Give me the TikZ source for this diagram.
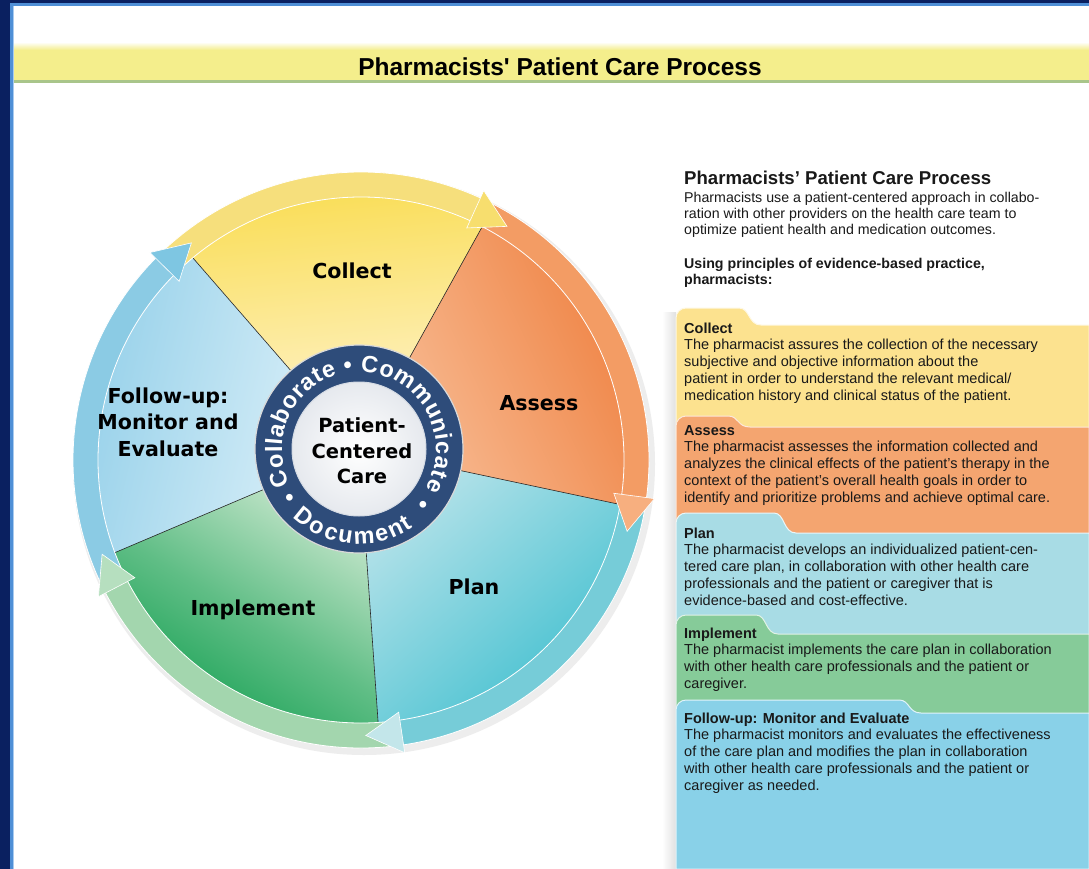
\documentclass[tikz,border=0pt]{standalone}
\usepackage{fontspec}
\setmainfont{Liberation Sans}
\newfontfamily\wheelfont{DejaVu Sans}
\newfontfamily\bandfont{Liberation Sans}
\usetikzlibrary{calc,decorations.text}
\definecolor{bnavy}{HTML}{0A2060}
\definecolor{bblue}{HTML}{4F8FD6}
\definecolor{blight}{HTML}{A9CBEF}
\definecolor{band}{HTML}{F4EE8C}
\definecolor{bandline}{HTML}{A9C58A}
\definecolor{collectOut}{HTML}{F8D93E}
\definecolor{collectIn}{HTML}{FFF5D8}
\definecolor{assessOut}{HTML}{EE7A37}
\definecolor{assessIn}{HTML}{F8C09A}
\definecolor{planOut}{HTML}{2EBACB}
\definecolor{planIn}{HTML}{B8E3EA}
\definecolor{implOut}{HTML}{009844}
\definecolor{implIn}{HTML}{D5ECD6}
\definecolor{fuOut}{HTML}{8ECDE8}
\definecolor{fuIn}{HTML}{E2F3FA}
\definecolor{ringY}{HTML}{F6DF7C}
\definecolor{ringO}{HTML}{F39C64}
\definecolor{ringT}{HTML}{76CCD8}
\definecolor{ringG}{HTML}{A3D6AE}
\definecolor{ringB}{HTML}{8BCBE4}
\definecolor{headY}{HTML}{F7DE6E}
\definecolor{headO}{HTML}{F7AF7F}
\definecolor{headT}{HTML}{C3E6EA}
\definecolor{headG}{HTML}{B6DFBF}
\definecolor{headB}{HTML}{7EC6E2}
\definecolor{hubnavy}{HTML}{2E4C7A}
\definecolor{hubinner}{HTML}{E6E9EE}
\definecolor{pY}{HTML}{FCE28F}
\definecolor{pO}{HTML}{F4A570}
\definecolor{pT}{HTML}{A8DCE5}
\definecolor{pG}{HTML}{86CB99}
\definecolor{pB}{HTML}{89D1E8}
\newcommand\ringfmt{\bandfont\bfseries\fontsize{23.5}{23.5}\selectfont\color{white}}
\newcommand\tabpanel[5]{\fill[#1, draw=white!75!#1, line width=1pt] (676,-#5) -- (676,-#2-10) arc[start angle=180, end angle=90, radius=10] -- (#3-14,-#2) .. controls (#3-3,-#2) and (#3-5,-#4) .. (#3+8,-#4) -- (1089,-#4) -- (1089,-#5) -- cycle;}
\tikzset{
  wedgelabel/.style={font=\wheelfont\bfseries\fontsize{20.6}{26.5}\selectfont, align=center, text=black, inner sep=0pt},
  divider/.style={draw=black!85, line width=0.6pt},
  paneltext/.style={anchor=north west, inner sep=0pt, align=left, text=black!90, font=\fontsize{14.5}{16.8}\selectfont},
  ringbullet/.style={text=white, font=\ringfmt, inner sep=0pt},
}
\begin{document}
\begin{tikzpicture}[x=1pt,y=1pt]
\useasboundingbox (0,0) rectangle (1089,-869);
\fill[white] (0,0) rectangle (1089,-869);
% frame
\fill[bnavy] (0,0) rectangle (10,-869);
\fill[bnavy] (0,0) rectangle (1089,-3);
\fill[bblue] (10,-3) rectangle (13,-869);
\fill[bblue] (10,-3) rectangle (1089,-6);
\fill[blight] (13,-6) rectangle (14,-869);
% header band
\shade[top color=white, bottom color=band] (14,-42) rectangle (1089,-50);
\fill[band] (14,-50) rectangle (1089,-80);
\fill[bandline] (14,-80) rectangle (1089,-83);
\node[font=\bandfont\bfseries\fontsize{24.5}{26}\selectfont, inner sep=0pt] (title) at (560,-67) {Pharmacists' Patient Care Process};

% wheel
\begin{scope}[shift={(361,-460)}]
  \coordinate (hub) at (-2,11);
  \fill[black!7] (3,-4) circle[radius=291];
  \begin{scope}
    \clip (0,0) circle[radius=267];
    \shade[top color=collectOut, bottom color=collectIn, shading angle=6]
      (hub) -- ($(hub)+(61:310)$) -- ($(hub)+(96:310)$) -- ($(hub)+(131:310)$) -- cycle;
    \shade[top color=fuOut, bottom color=fuIn, shading angle=77]
      (hub) -- ($(hub)+(131:310)$) -- ($(hub)+(167:310)$) -- ($(hub)+(203:310)$) -- cycle;
    \shade[top color=implOut, bottom color=implIn, middle color=implOut!55!implIn, shading angle=148]
      (hub) -- ($(hub)+(203:310)$) -- ($(hub)+(238:310)$) -- ($(hub)+(274:310)$) -- cycle;
    \shade[top color=planOut, bottom color=planIn, shading angle=221]
      (hub) -- ($(hub)+(274:310)$) -- ($(hub)+(311:310)$) -- ($(hub)+(348:310)$) -- cycle;
    \shade[top color=assessOut, bottom color=assessIn, shading angle=-65]
      (hub) -- ($(hub)+(-12:310)$) -- ($(hub)+(24:310)$) -- ($(hub)+(61:310)$) -- cycle;
    \foreach \a in {61,131,203,274,348}
      \draw[divider] (hub) -- ($(hub)+(\a:310)$);
  \end{scope}
  % ring bodies
  \foreach \s/\e/\c in {128/58/ringY, 58/-15/ringO, -15/-89/ringT, -89/-160/ringG, -160/-232/ringB}
    \fill[\c, draw=white, line width=0.8pt] (\s+7:263) arc[start angle=\s+7, end angle=\e+7, radius=263]
      -- (\e+7:288) arc[start angle=\e+7, end angle=\s+7, radius=288] -- cycle;
  % ring heads
  \foreach \e/\c in {58/headY, -15/headO, -89/headT, -160/headG, -232/headB}
    \fill[\c, draw=white, line width=0.6pt] (\e+7.5:255) -- (\e:275.5) -- (\e+7.5:296) -- cycle;
  % hub
  \fill[hubnavy, draw=white!85!black, line width=1.2pt] (hub) circle[radius=104];
  \shade[inner color=white, outer color=hubinner, draw=white!80!hubnavy, line width=1pt] (hub) circle[radius=67];
  \path[decorate, decoration={text along path, text align={fit to path}, text={|\ringfmt|Collaborate • Communicate}}]
    ($(hub)+(207:77)$) arc[start angle=207, end angle=-31, radius=77];
  \path[decorate, decoration={text align={fit to path}, text along path, text={|\ringfmt|Document}}]
    ($(hub)+(226:95)$) arc[start angle=226, end angle=305, radius=95];
  \node[ringbullet] (b1) at ($(hub)+(216:86)$) {•};
  \node[ringbullet] (b2) at ($(hub)+(-42:86)$) {•};
\end{scope}
\node[wedgelabel] (collect) at (352,-271) {Collect};
\node[wedgelabel] (assess) at (539,-403) {Assess};
\node[wedgelabel] (plan) at (474,-587) {Plan};
\node[wedgelabel] (implement) at (253,-610) {Implement};
\node[wedgelabel] (followup) at (168,-422) {Follow-up:\\Monitor and\\Evaluate};
\node[wedgelabel, font=\wheelfont\bfseries\fontsize{19.5}{25.5}\selectfont] (pcc) at (362,-451) {Patient-\\Centered\\Care};

% right column
\shade[left color=white, right color=black!12] (662,-312) rectangle (676,-869);
\tabpanel{pY}{308}{753}{325}{440}
\tabpanel{pO}{416}{742}{427}{540}
\tabpanel{pT}{513}{788}{533}{640}
\tabpanel{pG}{615}{770}{634}{725}
\tabpanel{pB}{700}{913}{713}{869}

\node[anchor=base west, inner sep=0pt, text=black!90, font=\bfseries\fontsize{18.6}{22}\selectfont] (ptitle) at (684,-184.5) {Pharmacists’ Patient Care Process};
\node[paneltext, font=\fontsize{14.2}{16}\selectfont] (pintro) at (684,-190.8)
  {\strut Pharmacists use a patient-centered approach in collabo-\\ration with other providers on the health care team to\\optimize patient health and medication outcomes.};
\node[paneltext, font=\bfseries\fontsize{14.2}{16}\selectfont] (pusing) at (684,-256.8)
  {\strut Using principles of evidence-based practice,\\pharmacists:};

\node[paneltext] (tcollect) at (684,-321.2)
  {\strut\textbf{Collect}\\The pharmacist assures the collection of the necessary\\subjective and objective information about the\\patient in order to understand the relevant medical/\\medication history and clinical status of the patient.};
\node[paneltext] (tassess) at (684,-423.2)
  {\strut\textbf{Assess}\\The pharmacist assesses the information collected and\\analyzes the clinical effects of the patient’s therapy in the\\context of the patient’s overall health goals in order to\\identify and prioritize problems and achieve optimal care.};
\node[paneltext] (tplan) at (684,-526.2)
  {\strut\textbf{Plan}\\The pharmacist develops an individualized patient-cen-\\tered care plan, in collaboration with other health care\\professionals and the patient or caregiver that is\\evidence-based and cost-effective.};
\node[paneltext] (timpl) at (684,-626.2)
  {\strut\textbf{Implement}\\The pharmacist implements the care plan in collaboration\\with other health care professionals and the patient or\\caregiver.};
\node[paneltext] (tfu) at (684,-711.2)
  {\strut\textbf{Follow-up: Monitor and Evaluate}\\The pharmacist monitors and evaluates the effectiveness\\of the care plan and modifies the plan in collaboration\\with other health care professionals and the patient or\\caregiver as needed.};
\end{tikzpicture}
\end{document}
